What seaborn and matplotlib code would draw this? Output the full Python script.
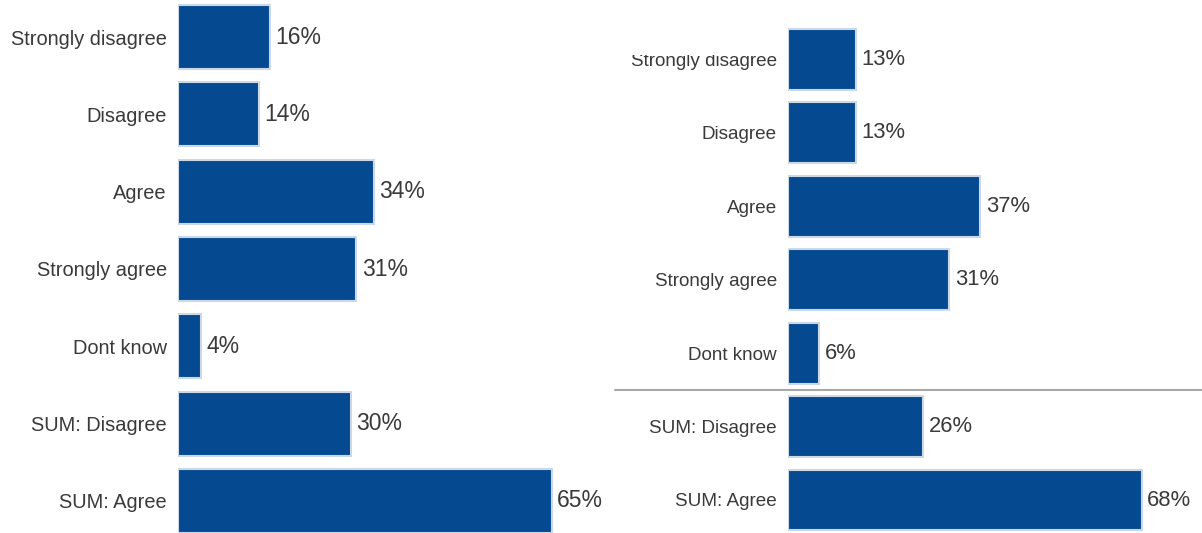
import matplotlib
matplotlib.use("Agg")
import matplotlib.pyplot as plt
from matplotlib.lines import Line2D
from matplotlib.transforms import Bbox
import seaborn as sns
import pandas as pd

# Survey responses, two groups
categories = ["Strongly disagree", "Disagree", "Agree", "Strongly agree",
              "Dont know", "SUM: Disagree", "SUM: Agree"]
left_values = [16, 14, 34, 31, 4, 30, 65]
right_values = [13, 13, 37, 31, 6, 26, 68]

BAR = "#054a91"
EDGE = "#cdd8e6"
TEXT = "#3a3a3a"

sns.set_theme(style="white")
plt.rcParams["font.family"] = ["Liberation Sans", "DejaVu Sans"]

W, H = 1202, 533
fig = plt.figure(figsize=(W / 100, H / 100), dpi=100)
fig.patch.set_facecolor("white")


def px_axes(x0, top, width, bottom):
    """Create axes from pixel coordinates measured from the top-left corner."""
    return fig.add_axes([x0 / W, (H - bottom) / H, width / W, (bottom - top) / H])


def draw_panel(ax, values, label_size, value_size):
    df = pd.DataFrame({"category": categories, "value": values})
    sns.barplot(data=df, x="value", y="category", orient="h", color=BAR,
                edgecolor=EDGE, linewidth=1.5, width=0.83, saturation=1,
                ax=ax)
    ax.set_xlim(0, 100)
    ax.set_ylim(len(categories) - 0.5, -0.5)
    ax.set_xlabel("")
    ax.set_ylabel("")
    ax.set_xticks([])
    ax.tick_params(axis="y", length=0, pad=8, labelsize=label_size,
                   labelcolor=TEXT)
    for s in ax.spines.values():
        s.set_visible(False)
    ax.set_facecolor("none")
    for c in ax.containers:
        ax.bar_label(c, labels=[f"{v}%" for v in values], padding=4,
                     fontsize=value_size, color=TEXT)


# Left group
ax_l = px_axes(178, 37 - 77.33 / 2, 575, 501 + 77.33 / 2)
draw_panel(ax_l, left_values, 14.4, 16.5)

# Right group
step_r = (500 - 59.5) / 6
ax_r = px_axes(788, 59.5 - step_r / 2, 520, 500 + step_r / 2)
draw_panel(ax_r, right_values, 13.6, 15.8)

# Separator between single answers and summary rows
y_sep = (H - 390) / H
fig.add_artist(Line2D([615 / W, 1.0], [y_sep, y_sep], color="#a8a8a8",
                      linewidth=1.5, transform=fig.transFigure))

# The right panel's top label is cut by its frame edge
fig.canvas.draw()
top_label = ax_r.get_yticklabels()[0]
top_label.set_clip_box(Bbox.from_extents(0, 0, W, H - 55))
top_label.set_clip_on(True)

fig.savefig("out.png", dpi=100, facecolor="white")
